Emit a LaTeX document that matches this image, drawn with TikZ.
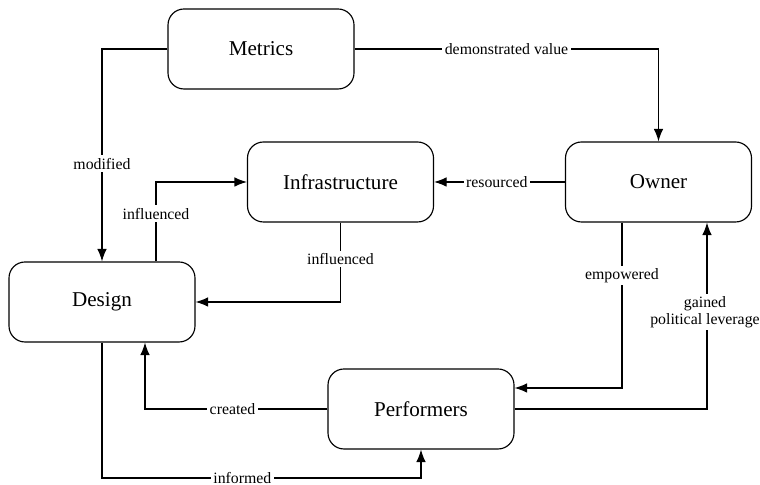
\documentclass[tikz,border=0pt]{standalone}
\usepackage{fontspec}
\setmainfont{Liberation Serif}
\usetikzlibrary{positioning,arrows.meta}

\tikzset{
	block/.style={draw,line width=0.65pt,rounded corners=0.32cm,minimum width=3.72cm,minimum height=1.6cm,font=\fontsize{12}{14}\selectfont},
	lbl/.style={fill=white,inner sep=1.5pt,font=\fontsize{9}{9.8}\selectfont},
	link/.style={line width=0.65pt,-{Latex[length=2.5mm,width=1.9mm]}}
}

\begin{document}
\begin{tikzpicture}[]

\useasboundingbox(0,0)rectangle(15.2,9.7);

\node[block] (metrics) at (5.22,8.72) {Metrics};
\node[block] (owner) at (13.17,6.06) {Owner};
\node[block] (infra) at (6.81,6.06) {Infrastructure};
\node[block] (design) at (2.04,3.66) {Design};
\node[block] (perf) at (8.42,1.52) {Performers};

\coordinate (low) at (8.42,0.14);

\draw[link](metrics.east) -| node[lbl,pos=0.25] {demonstrated value} (owner.north);
\draw[link](metrics.west) -| node[lbl,pos=0.77] {modified} (design.north);
\draw[link](owner.west) -- node[lbl,pos=0.52] {resourced} (infra.east);
\draw[link]([xshift=1.08cm]design.north) |- node[lbl,pos=0.3] {influenced} (infra.west);
\draw[link](infra.south) |- node[lbl,pos=0.23] {influenced} (design.east);
\draw[link]([xshift=-0.73cm]owner.south) |- node[lbl,pos=0.16] {empowered} ([yshift=0.42cm]perf.east);
\draw[link](perf.east) -| node[lbl,pos=0.76,align=center,xshift=-0.04cm,inner xsep=0.5pt] {gained\\political leverage} ([xshift=0.97cm]owner.south);
\draw[link](perf.west) -| node[lbl,pos=0.26] {created} ([xshift=0.86cm]design.south);
\draw[link](design.south) |- node[lbl,pos=0.72] {informed} (low) -- (perf.south);

\end{tikzpicture}
\end{document}
